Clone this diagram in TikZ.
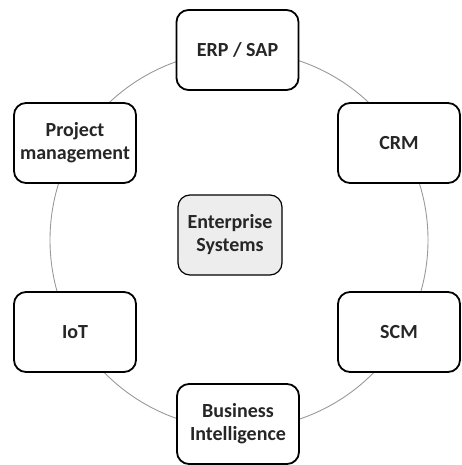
\documentclass[tikz,border=0pt]{standalone}
\usepackage{fontspec}
\setmainfont{Carlito}
\begin{document}
\begin{tikzpicture}[x=1pt,y=-1pt,
  box/.style={draw=black,line width=1.8pt,rounded corners=12pt,fill=white,
    minimum width=122pt,minimum height=80pt,align=center,
    font=\fontsize{20}{23}\selectfont\bfseries,text=black!85},
  centerbox/.style={box,fill=black!7,minimum width=104pt,line width=1.2pt},
  ring/.style={draw=black!40,line width=0.9pt}]
\useasboundingbox (0,0) rectangle (462,465);
\coordinate (c) at (239,240);
\draw[ring] (c) circle[radius=189];
\node[box] (erp) at (237.5,50) {ERP / SAP};
\node[box] (crm) at (399,143) {CRM};
\node[box] (scm) at (399,332) {SCM};
\node[box] (bi) at (238,424) {Business\\Intelligence};
\node[box] (iot) at (75,332) {IoT};
\node[box] (pm) at (75,143) {Project\\management};
\node[centerbox] (es) at (230,235) {Enterprise\\Systems};
\end{tikzpicture}
\end{document}
